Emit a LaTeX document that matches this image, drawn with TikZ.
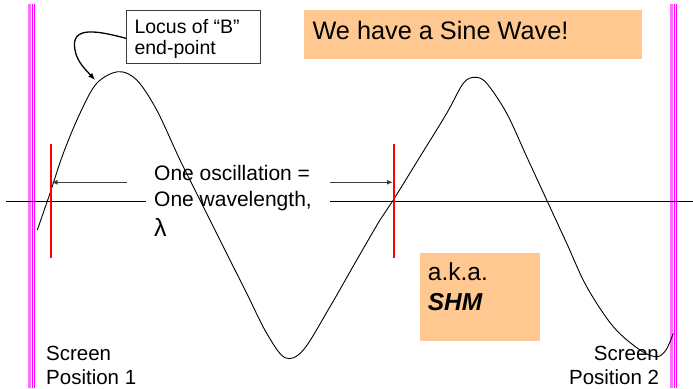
\documentclass[tikz,border=0pt]{standalone}
\usepackage{fontspec}
\setmainfont{Liberation Sans}
\usetikzlibrary{arrows.meta}
\definecolor{boxorange}{RGB}{255,200,144}
\definecolor{scrmag}{RGB}{255,0,255}
\definecolor{scrpink}{RGB}{255,110,255}
\definecolor{arrgray}{RGB}{60,60,60}
\begin{document}
\begin{tikzpicture}[x=1pt,y=-1pt,
  txt/.style={inner sep=0pt, anchor=base west},
  txtr/.style={inner sep=0pt, anchor=base east},
  fillbox/.style={fill=boxorange, draw=none, inner sep=0pt, anchor=north west},
  redmark/.style={draw=red, line width=2.3pt},
  pointer/.style={draw=arrgray, line width=1.2pt, -{Latex[length=6pt,width=5pt]}},
  wave/.style={draw=black, line width=0.9pt},
  axisline/.style={draw=black, line width=1pt}]
\useasboundingbox (0,0) rectangle (693,388);

% screens
\fill[scrpink] (28.3,4) rectangle (31,388);
\fill[scrmag] (32.2,4) rectangle (33.4,388);
\fill[scrmag] (34.1,4) rectangle (35.4,388);
\fill[scrpink] (670,4) rectangle (672.7,388);
\fill[scrmag] (673.6,4) rectangle (674.9,388);
\fill[scrmag] (675.7,4) rectangle (677,388);

% axis
\coordinate (axL1) at (6,201.5);
\coordinate (axL2) at (146,201.5);
\coordinate (axR1) at (330,201.5);
\coordinate (axR2) at (693,201.5);
\draw[axisline] (axL1) -- (axL2);
\draw[axisline] (axR1) -- (axR2);

% orange boxes
\node[fillbox, minimum width=338pt, minimum height=49pt] (title) at (304,10) {};
\node[txt, font=\fontsize{25.3}{30}\selectfont] (titletxt) at (312.3,39) {We have a Sine Wave!};
\node[fillbox, minimum width=120.7pt, minimum height=88.7pt] (aka) at (419.3,252.3) {};
\node[txt, font=\fontsize{24.5}{30}\selectfont] (akatxt) at (427.7,280.7) {a.k.a.};
\node[txt, font=\fontsize{24.5}{30}\selectfont\bfseries\itshape] (shmtxt) at (427.7,310.7) {SHM};

% locus box
\node[draw=arrgray, line width=1pt, inner sep=0pt, anchor=north west, minimum width=134pt, minimum height=53.3pt] (locus) at (126,10) {};
\node[txt, font=\fontsize{19.5}{22}\selectfont] (locus1) at (134.3,33.3) {Locus of “B”};
\node[txt, font=\fontsize{19.5}{22}\selectfont] (locus2) at (134.3,54.3) {end-point};
\coordinate (cstart) at (126,38.3);
\coordinate (ctip) at (95,80);
\draw[line width=1.3pt, -{Latex[length=7pt,width=5.5pt]}] (cstart) .. controls (98,31) and (70,25) .. (75,50) .. controls (77,62) and (86,70) .. (ctip);

% sine wave
\draw[wave] plot[smooth, tension=0.55] coordinates {(37.3,230) (50,193.3) (63.3,153.3) (80,113.3) (96.7,83.3) (118.3,71.7) (136.7,80) (156.7,110) (180,160) (200,200) (223.3,246.7) (246.7,293.3) (266.7,333.3) (285,357.7) (303.3,350) (330,306.7) (355,263) (380,220) (393.3,200) (420,156.7) (446.7,113.3) (463.3,83.3) (475,77.3) (486.7,83.3) (506.7,113.3) (526.7,156.7) (546.7,200) (566.7,243.3) (586.7,286.7) (613.3,326.7) (640,350) (656.7,356.7) (666,350) (673.3,333.3)};

% red markers
\coordinate (rLt) at (50.7,144);
\coordinate (rLb) at (50.7,258.3);
\coordinate (rRt) at (394,144);
\coordinate (rRb) at (394,258.3);
\draw[redmark] (rLt) -- (rLb);
\draw[redmark] (rRt) -- (rRb);

% wavelength arrows and text
\coordinate (aLs) at (126.7,182.3);
\coordinate (aLe) at (51.5,182.3);
\coordinate (aRs) at (330,182.3);
\coordinate (aRe) at (393,182.3);
\draw[pointer] (aLs) -- (aLe);
\draw[pointer] (aRs) -- (aRe);
\node[txt, font=\fontsize{21}{26}\selectfont] (osc1) at (154,180.7) {One oscillation =};
\node[txt, font=\fontsize{21}{26}\selectfont] (osc2) at (154,206.7) {One wavelength,};
\node[txt, font=\fontsize{25}{26}\selectfont] (osc3) at (154,236) {λ};

% screen labels
\node[txt, font=\fontsize{20.5}{25}\selectfont] (s1a) at (46,360) {Screen};
\node[txt, font=\fontsize{20.5}{25}\selectfont] (s1b) at (46,384) {Position 1};
\node[txtr, font=\fontsize{20.5}{25}\selectfont] (s2a) at (659,360) {Screen};
\node[txtr, font=\fontsize{20.5}{25}\selectfont] (s2b) at (659.3,384) {Position 2};
\end{tikzpicture}
\end{document}
